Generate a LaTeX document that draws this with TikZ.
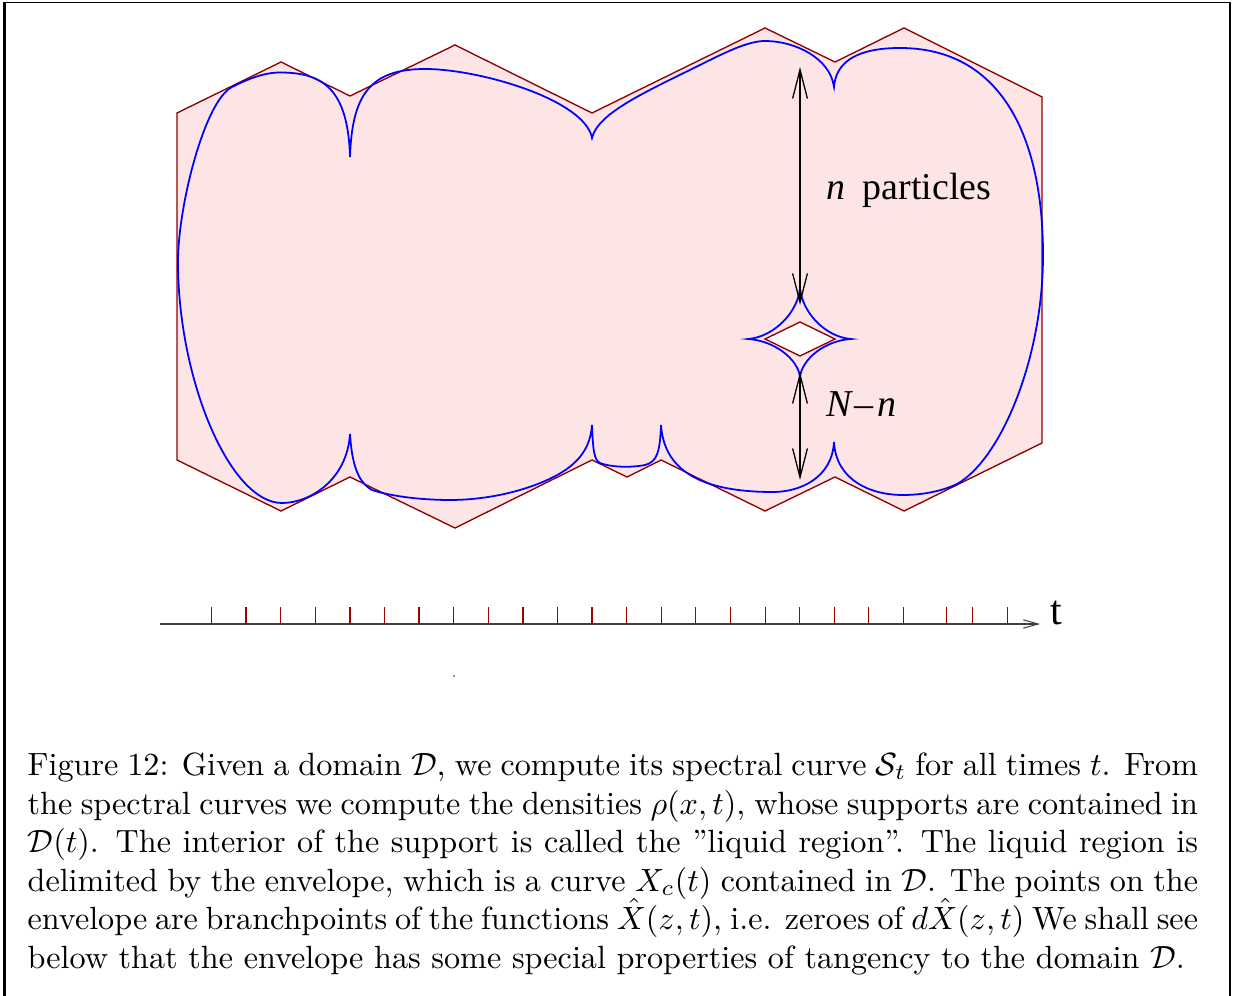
\documentclass[tikz,border=0pt]{standalone}
\usepackage{fontspec}
\newfontfamily\tms{Liberation Serif}
\usetikzlibrary{arrows.meta}
\definecolor{dom}{HTML}{900000}
\definecolor{domfill}{HTML}{FDE5E5}
\definecolor{tickc}{HTML}{A00000}
\definecolor{axisc}{HTML}{404040}
\newcommand{\capw}{364pt}
\begin{document}
\begin{tikzpicture}[x=0.311pt,y=-0.311pt,
  domainst/.style={draw=dom, line width=0.42pt, fill=domfill, line join=miter},
  holest/.style={draw=dom, line width=0.42pt, fill=white},
  env/.style={draw=blue, line width=0.55pt},
  dimarrow/.style={draw=black, line width=0.4pt, {Straight Barb[length=9pt,width=4.6pt]}-{Straight Barb[length=9pt,width=4.6pt]}},
  axisst/.style={draw=axisc, line width=0.32pt, -{Straight Barb[length=4.6pt,width=2.6pt]}},
  tickst/.style={draw=tickc, line width=0.32pt},
  lab/.style={inner sep=0pt, font=\tms\fontsize{11.8}{14}\selectfont},
  captext/.style={inner sep=0pt, anchor=base west, font=\fontsize{10}{12}\selectfont},
  framest/.style={draw=black}]
\useasboundingbox (0,0) rectangle (1247,996);
% frame
\draw[framest, line width=1pt] (4.5,996) -- (4.5,2.5);
\draw[framest, line width=0.6pt] (4,2.5) -- (1230.5,2.5);
\draw[framest, line width=0.5pt] (1230,2.5) -- (1230,996);
% domain
\path[domainst] (177,113) -- (281,62) -- (350,96) -- (455,45) -- (592,113) -- (765,28) -- (835,62) -- (904,28) -- (1042,97) -- (1042,443) -- (904,511) -- (835,477) -- (765,511) -- (661,460) -- (627,477) -- (592,460) -- (455,528) -- (350,477) -- (281,511) -- (177,460) -- cycle;
\path[holest] (765,339) -- (800,322) -- (835,339) -- (800,356) -- cycle;
% envelope
\draw[env] (178,262)
 .. controls (178,205) and (205,100.5) .. (232,87)
 .. controls (244,81) and (262,72.5) .. (280,72.5)
 .. controls (322,72.5) and (348,88) .. (350,157)
 .. controls (352,95) and (370,69) .. (425,69)
 .. controls (480,69) and (585,100) .. (592,138)
 .. controls (598,112) and (650,90) .. (706,62)
 .. controls (730,50) and (750,41) .. (765,41)
 .. controls (795,41) and (830,58) .. (834,87)
 .. controls (836,60) and (860,48) .. (900,48)
 .. controls (1000,48) and (1043,135) .. (1043,255)
 .. controls (1043,360) and (1000,460) .. (957,484)
 .. controls (940,492) and (920,495) .. (903,495)
 .. controls (870,495) and (836,480) .. (834,442)
 .. controls (832,478) and (800,492) .. (773,492)
 .. controls (700,492) and (664,470) .. (661,425)
 .. controls (660,452) and (657,462) .. (645,465)
 .. controls (630,468) and (610,467) .. (600,463)
 .. controls (594,460) and (593,450) .. (592,425)
 .. controls (590,455) and (570,470) .. (545,481)
 .. controls (515,494) and (480,500) .. (450,500)
 .. controls (420,500) and (390,496) .. (372,490)
 .. controls (358,482) and (352,465) .. (350,434)
 .. controls (347,480) and (310,503) .. (282,503)
 .. controls (230,503) and (178,380) .. (178,262) -- cycle;
% inner cusped curve
\draw[env] (800,288)
 .. controls (802,312) and (825,337) .. (851,339)
 .. controls (825,340.5) and (802,359) .. (800,377)
 .. controls (798,359) and (774,340.5) .. (748,339)
 .. controls (774,337) and (798,312) .. (800,288) -- cycle;
% arrows
\coordinate (a1) at (800,67);
\coordinate (a2) at (800,305);
\coordinate (b1) at (800,372);
\coordinate (b2) at (800,480);
\draw[dimarrow] (a1) -- (a2);
\draw[dimarrow] (b1) -- (b2);
\node[lab, anchor=base west] (np) at (826,200) {\itshape n\upshape\hspace{5.4pt}particles};
\node[lab, anchor=base west] (nn) at (826,417) {\itshape N\upshape\hspace{0.8pt}–\hspace{1.2pt}\itshape n};
% axis
\coordinate (ax0) at (160,624);
\coordinate (ax1) at (1040,624);
\draw[axisst] (ax0) -- (ax1);
\foreach \x in {211.3,246,280.5,315.3,350,384.3,419,453.7,488.3,523,557.3,592,626.7,661.3,695.7,730.3,765,799.7,834.3,868.7,903.3,946.7,972.7,1007.3}
  \draw[tickst] (\x,607) -- (\x,624);
\node[lab, anchor=base west, font=\tms\fontsize{13}{15}\selectfont] (tl) at (1050,624) {t};
\fill[dom!50] (452.5,675) rectangle (454.5,677);
% caption
\node[captext] (c1) at (27,775) {\makebox[\capw][s]{Figure 12: Given a domain $\mathcal{D}$, we compute its spectral curve $\mathcal{S}_t$ for all times $t$. From}};
\node[captext] (c2) at (27,814) {\makebox[\capw][s]{the spectral curves we compute the densities $\rho(x,t)$, whose supports are contained in}};
\node[captext] (c3) at (27,852) {\makebox[\capw][s]{$\mathcal{D}(t)$. The interior of the support is called the ''liquid region''. The liquid region is}};
\node[captext] (c4) at (27,891) {\makebox[\capw][s]{delimited by the envelope, which is a curve $X_c(t)$ contained in $\mathcal{D}$. The points on the}};
\node[captext] (c5) at (27,929) {\makebox[\capw][s]{envelope are branchpoints of the functions $\hat X(z,t)$, i.e. zeroes of $d\hat X(z,t)$ We shall see}};
\node[captext] (c6) at (27,968) {below that the envelope has some special properties of tangency to the domain $\mathcal{D}$.};
\end{tikzpicture}
\end{document}
